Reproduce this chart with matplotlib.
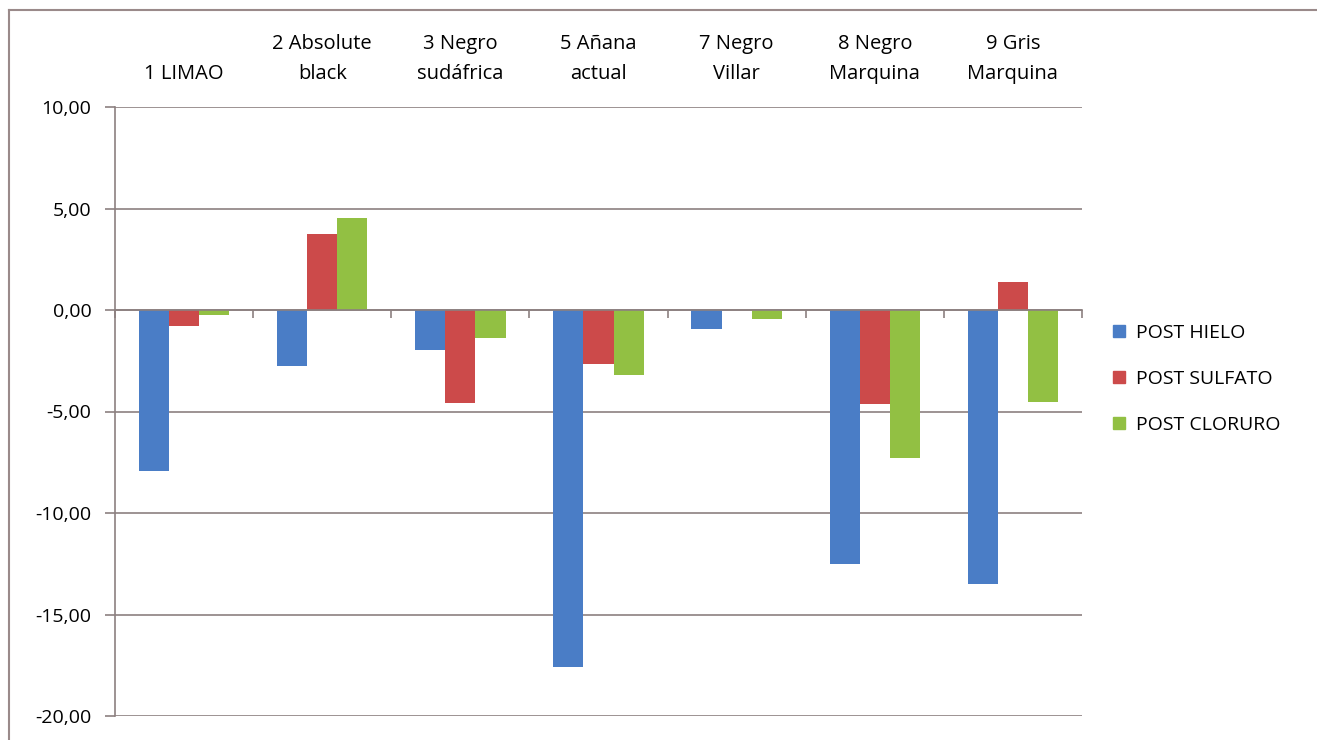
import numpy as np
import matplotlib.pyplot as plt
from matplotlib.lines import Line2D
import matplotlib.transforms as mtransforms

plt.rcParams['font.family'] = ['Open Sans', 'DejaVu Sans']

# datos
categorias = ["1 LIMAO", "2 Absolute\nblack", "3 Negro\nsudáfrica", "5 Añana\nactual",
              "7 Negro\nVillar", "8 Negro\nMarquina", "9 Gris\nMarquina"]
post_hielo = [-7.93, -2.76, -1.97, -17.6, -0.94, -12.5, -13.5]
post_sulfato = [-0.79, 3.74, -4.57, -2.66, 0.0, -4.63, 1.40]
post_cloruro = [-0.25, 4.55, -1.38, -3.20, -0.44, -7.27, -4.52]
series = ["POST HIELO", "POST SULFATO", "POST CLORURO"]
colores = ["#4a7dc6", "#cc4a4a", "#92c043"]

W, H = 1317, 740
fig = plt.figure(figsize=(W / 100, H / 100), dpi=100)
ax = fig.add_axes([115 / W, 1 - 716 / H, (1082 - 115) / W, (716 - 107) / H])

x = np.arange(len(categorias))
ancho = 0.218
for k, (vals, c, nombre) in enumerate(zip([post_hielo, post_sulfato, post_cloruro], colores, series)):
    ax.bar(x + (k - 1) * ancho, vals, ancho, color=c, label=nombre, zorder=3)

ax.set_xlim(-0.5, len(categorias) - 0.5)
ax.set_ylim(-20, 10)
ax.set_yticks([10, 5, 0, -5, -10, -15, -20])
ax.set_yticklabels(["10,00", "5,00", "0,00", "-5,00", "-10,00", "-15,00", "-20,00"])
gris = "#8c8080"
ax.yaxis.grid(True, color=gris, linewidth=1.2, zorder=0)
ax.tick_params(axis='y', length=7, width=1.2, color=gris, labelsize=14, pad=10)

# eje x en cero con marcas entre categorias
ax.spines['bottom'].set_position(('data', 0))
ax.spines['bottom'].set_color(gris)
ax.spines['bottom'].set_linewidth(1.2)
ax.spines['bottom'].set_zorder(4)
ax.set_xticks(np.arange(len(categorias) + 1) - 0.5)
ax.set_xticklabels([])
ax.tick_params(axis='x', length=6, width=1.2, color=gris, direction='out')
ax.spines['left'].set_color(gris)
ax.spines['left'].set_linewidth(1.2)
ax.spines['top'].set_visible(False)
ax.spines['right'].set_visible(False)

# etiquetas de categoria arriba
trans = mtransforms.blended_transform_factory(ax.transData, fig.transFigure)
for i, cat in enumerate(categorias):
    ax.text(i, 1 - 84 / H, cat, transform=trans, ha='center', va='bottom',
            fontsize=14.5, linespacing=1.65)

handles = [Line2D([], [], marker='s', linestyle='', markersize=9, color=c) for c in colores]
fig.legend(handles, series, loc='upper left', bbox_to_anchor=(1101 / W, 1 - 314 / H),
           frameon=False, fontsize=14, handlelength=0.8, handletextpad=0.5,
           labelspacing=1.45, borderpad=0)

# marco del grafico
fig.add_artist(Line2D([9 / W, 1], [1 - 10 / H, 1 - 10 / H], color="#9a8a8a", linewidth=1.5))
fig.add_artist(Line2D([9 / W, 9 / W], [0, 1 - 10 / H], color="#9a8a8a", linewidth=1.5))

fig.savefig("out.png", dpi=100)
